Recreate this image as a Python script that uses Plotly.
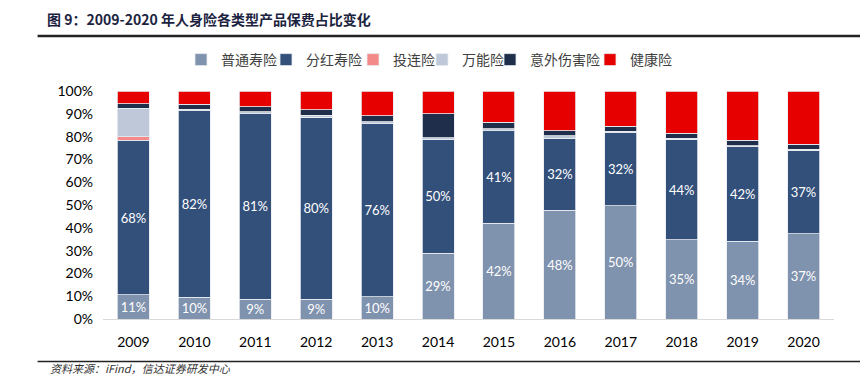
import plotly.graph_objects as go

years = ["2009", "2010", "2011", "2012", "2013", "2014", "2015", "2016", "2017", "2018", "2019", "2020"]

putong = [10.6, 9.6, 8.7, 8.7, 9.8, 28.8, 41.9, 47.6, 49.6, 34.8, 34.0, 37.4]
fenhong = [67.8, 81.8, 81.3, 79.7, 75.9, 50.0, 40.7, 31.6, 32.2, 44.0, 41.6, 36.6]
toulian = [1.6, 0, 0, 0, 0, 0, 0, 0, 0, 0, 0, 0]
wanneng = [12.4, 0.7, 0.8, 1.0, 0.8, 0.8, 0.8, 1.1, 0.5, 0.5, 0.4, 0.4]
yiwai = [2.0, 2.2, 2.4, 2.3, 2.6, 10.4, 2.8, 2.3, 2.3, 2.2, 2.3, 2.3]
jiankang = [5.6, 5.7, 6.8, 8.3, 10.9, 10.0, 13.8, 17.4, 15.4, 18.5, 21.7, 23.3]

series = [
    ("普通寿险", putong, "#7f92ae", True),
    ("分红寿险", fenhong, "#33507b", True),
    ("投连险", toulian, "#f48989", False),
    ("万能险", wanneng, "#bec8d8", False),
    ("意外伤害险", yiwai, "#1f2e4a", False),
    ("健康险", jiankang, "#e60000", False),
]

# page pixel positions of each legend marker (reference)
legend_marker_px = [201, 286, 373, 442, 510, 610]

OFF = 8  # default body margin of the html page
W, H = 868, 376
L, R, T, B = 102.5 - OFF, W - (834.5 - OFF), 91 - OFF, H - (319.5 - OFF)
pw, ph = W - L - R, H - T - B


def px2x(px):
    return (px - OFF - L) / pw


def py2y(py):
    return (H - B - (py - OFF)) / ph


fig = go.Figure()
legend_layouts = {}
for i, (name, vals, color, labeled) in enumerate(series):
    lname = "legend" if i == 0 else f"legend{i + 1}"
    fig.add_trace(go.Bar(
        x=years, y=vals, name=name, legend=lname, showlegend=True,
        marker=dict(color=color, line=dict(color="#e8ebf0", width=0.8)),
        texttemplate="%{y:.0f}%" if labeled else None,
        textposition="inside" if labeled else "none",
        insidetextanchor="middle",
        textangle=0,
        constraintext="none",
        textfont=dict(color="white", size=13, family="Lato, sans-serif"),
    ))
    legend_layouts[lname] = dict(
        orientation="h",
        xref="container", yref="container",
        x=(legend_marker_px[i] - OFF - 20) / W, xanchor="left",
        y=1 - (60 - OFF) / H, yanchor="middle",
        font=dict(size=14, color="#404040", family="'Noto Sans CJK SC', sans-serif"),
        itemwidth=30,
        bgcolor="rgba(0,0,0,0)",
        visible=True,
    )

fig.update_layout(
    barmode="stack",
    bargap=0.475,
    showlegend=True,
    width=W, height=H,
    margin=dict(l=L, r=R, t=T, b=B, autoexpand=False),
    plot_bgcolor="white",
    paper_bgcolor="white",
    font=dict(family="Lato, 'Noto Sans CJK SC', sans-serif", color="#000000"),
    title=dict(
        text="图 9：2009-2020 年人身险各类型产品保费占比变化",
        x=(47 - OFF) / W, xref="container", xanchor="left",
        y=1 - (20 - OFF) / H, yref="container", yanchor="middle",
        font=dict(size=14, color="#1b2340", family="'Noto Sans CJK SC', sans-serif", weight="bold"),
    ),
    xaxis=dict(
        showline=True, linecolor="#d9d9d9", linewidth=1,
        ticks="", ticklabelstandoff=10,
        tickfont=dict(size=14, color="#000000", family="Lato, sans-serif"),
        showgrid=False,
    ),
    yaxis=dict(
        range=[0, 100], dtick=10, ticksuffix="%",
        showgrid=False, showline=False, zeroline=False,
        ticklabelstandoff=9,
        tickfont=dict(size=14, color="#000000", family="Lato, sans-serif"),
    ),
    shapes=[
        dict(type="line", xref="paper", yref="paper",
             x0=px2x(37), x1=px2x(865), y0=py2y(36), y1=py2y(36),
             line=dict(color="#222222", width=2.5)),
        dict(type="line", xref="paper", yref="paper",
             x0=px2x(37), x1=px2x(865), y0=py2y(362), y1=py2y(362),
             line=dict(color="#222222", width=1.5)),
    ],
    annotations=[
        dict(text="<i>资料来源：iFind，信达证券研发中心</i>", xref="paper", yref="paper",
             x=px2x(47), y=py2y(369), xanchor="left", yanchor="middle",
             showarrow=False, font=dict(size=11, color="#333333", family="'Noto Sans CJK SC', sans-serif")),
    ],
    **legend_layouts,
)

fig.write_html("out.html")
